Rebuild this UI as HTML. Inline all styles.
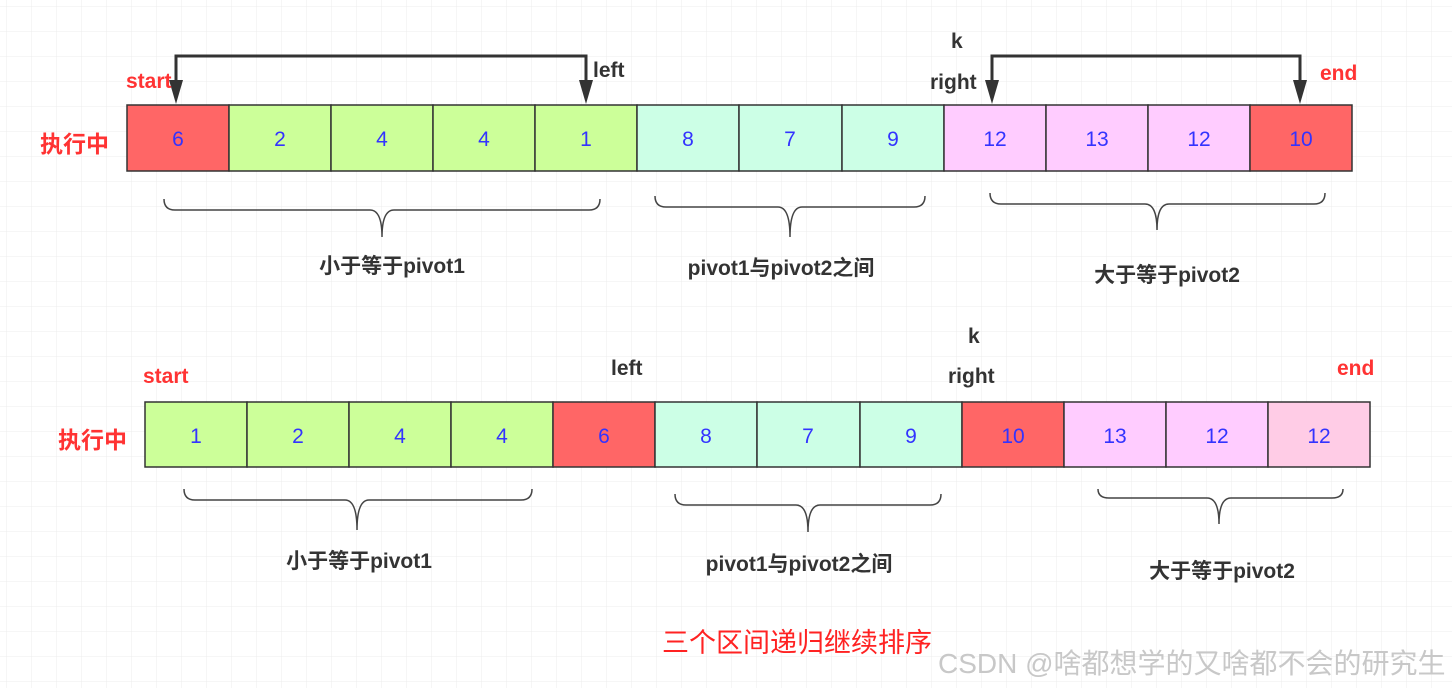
<!DOCTYPE html>
<html><head><meta charset="utf-8"><style>
html,body{margin:0;padding:0;background:#fff;}
svg{display:block;}
text{font-family:"Liberation Sans","Noto Sans CJK SC",sans-serif;}
</style></head><body>
<svg width="1452" height="688" viewBox="0 0 1452 688" xmlns="http://www.w3.org/2000/svg">
<defs>
<pattern id="g" width="25" height="25" patternUnits="userSpaceOnUse" x="7" y="7">
<path d="M25 0V25M0 25H25" fill="none" stroke="#ececec" stroke-width="1"/>
</pattern>
</defs>
<rect width="1452" height="688" fill="url(#g)"/>

<!-- Row 1 -->
<g stroke="#333" stroke-width="1.5">
<rect x="127" y="105" width="102" height="66" fill="#ff6666"/>
<rect x="229" y="105" width="102" height="66" fill="#ccff99"/>
<rect x="331" y="105" width="102" height="66" fill="#ccff99"/>
<rect x="433" y="105" width="102" height="66" fill="#ccff99"/>
<rect x="535" y="105" width="102" height="66" fill="#ccff99"/>
<rect x="637" y="105" width="102" height="66" fill="#ccffe6"/>
<rect x="739" y="105" width="103" height="66" fill="#ccffe6"/>
<rect x="842" y="105" width="102" height="66" fill="#ccffe6"/>
<rect x="944" y="105" width="102" height="66" fill="#ffccff"/>
<rect x="1046" y="105" width="102" height="66" fill="#ffccff"/>
<rect x="1148" y="105" width="102" height="66" fill="#ffccff"/>
<rect x="1250" y="105" width="102" height="66" fill="#ff6666"/>
</g>
<g fill="#3333ff" font-size="21" text-anchor="middle">
<text x="178" y="146">6</text><text x="280" y="146">2</text><text x="382" y="146">4</text><text x="484" y="146">4</text><text x="586" y="146">1</text>
<text x="688" y="146">8</text><text x="790" y="146">7</text><text x="893" y="146">9</text>
<text x="995" y="146">12</text><text x="1097" y="146">13</text><text x="1199" y="146">12</text><text x="1301" y="146">10</text>
</g>
<g fill="none" stroke="#333" stroke-width="3">
<path d="M176 84V56H586V84"/>
<path d="M992 84V56H1300V84"/>
</g>
<g fill="#333">
<polygon points="169,80 183,80 176,104"/>
<polygon points="579,80 593,80 586,104"/>
<polygon points="985,80 999,80 992,104"/>
<polygon points="1293,80 1307,80 1300,104"/>
</g>
<g font-size="21" font-weight="bold">
<text x="126" y="88" fill="#ff3333">start</text>
<text x="593" y="77" fill="#333">left</text>
<text x="951" y="48" fill="#333">k</text>
<text x="930" y="89" fill="#333">right</text>
<text x="1320" y="80" fill="#ff3333">end</text>
<text x="143" y="383" fill="#ff3333">start</text>
<text x="611" y="375" fill="#333">left</text>
<text x="968" y="343" fill="#333">k</text>
<text x="948" y="383" fill="#333">right</text>
<text x="1337" y="375" fill="#ff3333">end</text>
</g>
<text x="40" y="152" fill="#ff3333" font-size="23" font-weight="bold">执行中</text>
<text x="58" y="448" fill="#ff3333" font-size="23" font-weight="bold">执行中</text>

<!-- braces row 1 -->
<g fill="none" stroke="#444" stroke-width="1.5">
<path d="M164 199Q164 210 175 210H370Q382 210 382 237Q382 210 394 210H589Q600 210 600 199"/>
<path d="M655 196Q655 207 666 207H778Q790 207 790 237Q790 207 802 207H914Q925 207 925 196"/>
<path d="M990 193Q990 204 1001 204H1145Q1157 204 1157 230Q1157 204 1169 204H1314Q1325 204 1325 193"/>
</g>
<g fill="#333" font-size="21" font-weight="bold" text-anchor="middle">
<text x="392" y="273">小于等于pivot1</text>
<text x="781" y="275">pivot1与pivot2之间</text>
<text x="1167" y="282">大于等于pivot2</text>
<text x="359" y="568">小于等于pivot1</text>
<text x="799" y="571">pivot1与pivot2之间</text>
<text x="1222" y="578">大于等于pivot2</text>
</g>

<!-- Row 2 -->
<g stroke="#333" stroke-width="1.5">
<rect x="145" y="402" width="102" height="65" fill="#ccff99"/>
<rect x="247" y="402" width="102" height="65" fill="#ccff99"/>
<rect x="349" y="402" width="102" height="65" fill="#ccff99"/>
<rect x="451" y="402" width="102" height="65" fill="#ccff99"/>
<rect x="553" y="402" width="102" height="65" fill="#ff6666"/>
<rect x="655" y="402" width="102" height="65" fill="#ccffe6"/>
<rect x="757" y="402" width="103" height="65" fill="#ccffe6"/>
<rect x="860" y="402" width="102" height="65" fill="#ccffe6"/>
<rect x="962" y="402" width="102" height="65" fill="#ff6666"/>
<rect x="1064" y="402" width="102" height="65" fill="#ffccff"/>
<rect x="1166" y="402" width="102" height="65" fill="#ffccff"/>
<rect x="1268" y="402" width="102" height="65" fill="#ffcce6"/>
</g>
<g fill="#3333ff" font-size="21" text-anchor="middle">
<text x="196" y="443">1</text><text x="298" y="443">2</text><text x="400" y="443">4</text><text x="502" y="443">4</text><text x="604" y="443">6</text>
<text x="706" y="443">8</text><text x="808" y="443">7</text><text x="911" y="443">9</text>
<text x="1013" y="443">10</text><text x="1115" y="443">13</text><text x="1217" y="443">12</text><text x="1319" y="443">12</text>
</g>

<g fill="none" stroke="#444" stroke-width="1.5">
<path d="M184 489Q184 500 195 500H345Q357 500 357 530Q357 500 369 500H521Q532 500 532 489"/>
<path d="M675 494Q675 505 686 505H796Q808 505 808 532Q808 505 820 505H930Q941 505 941 494"/>
<path d="M1098 489Q1098 498 1109 498H1207Q1219 498 1219 524Q1219 498 1231 498H1332Q1343 498 1343 489"/>
</g>

<text x="662" y="652" fill="#ff2222" font-size="27">三个区间递归继续排序</text>
<text x="938" y="673" fill="#c8c8c8" font-size="28">CSDN @啥都想学的又啥都不会的研究生</text>
</svg>
</body></html>
